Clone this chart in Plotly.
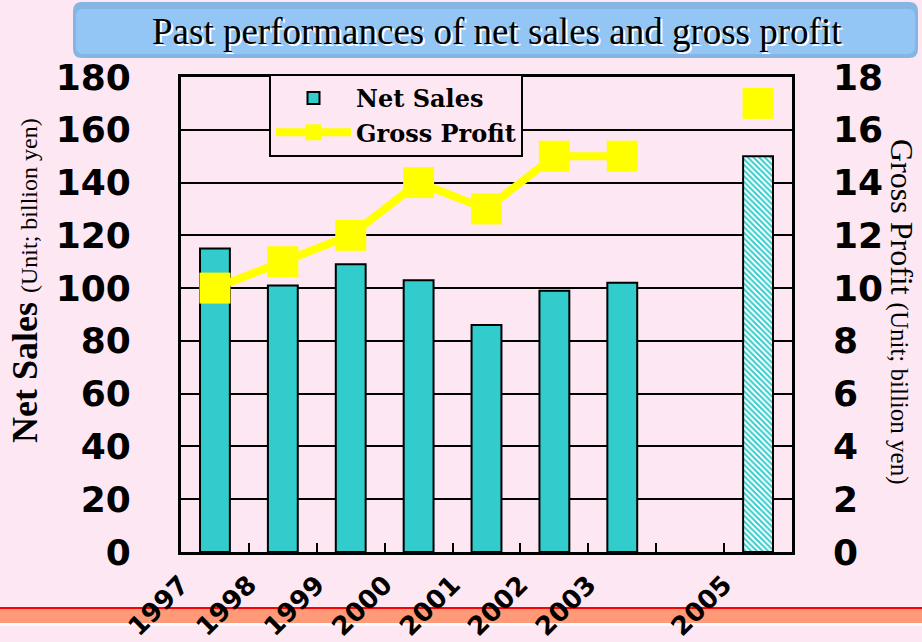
import plotly.graph_objects as go

# ---------------- data ----------------
years = [1997, 1998, 1999, 2000, 2001, 2002, 2003, 2004, 2005]
net_sales = [115, 101, 109, 103, 86, 99, 102, None, 150]          # billion yen
gross_profit = [10, 11, 12, 14, 13, 15, 15, None, 17]             # billion yen
tick_labels = ["1997", "1998", "1999", "2000", "2001", "2002", "2003", "", "2005"]
forecast_year = 2005

BG = "#FDE7F2"
TEAL = "#33CCCC"
YELLOW = "#FFFF00"

W, H = 922, 642
L, R, T, B = 181, 792, 77, 552   # plot area in px


def px_x(px):
    return (px - L) / (R - L)


def px_y(py):
    return (B - py) / (B - T)


fig = go.Figure()

pattern_shapes = ["\\" if y >= forecast_year else "" for y in years]

fig.add_trace(go.Bar(
    x=years, y=net_sales, name="Net Sales", width=0.44,
    marker=dict(color=TEAL, line=dict(color="black", width=2),
                pattern=dict(shape=pattern_shapes, fgcolor=TEAL, bgcolor="white",
                             fillmode="replace", size=4, solidity=0.5)),
    yaxis="y",
))

fig.add_trace(go.Scatter(
    x=years, y=gross_profit, name="Gross Profit", mode="lines+markers",
    line=dict(color=YELLOW, width=8),
    marker=dict(symbol="square", size=31, color=YELLOW, line=dict(width=0)),
    connectgaps=False, yaxis="y2",
))

tickfont = dict(family="DejaVu Sans", size=36, color="black", weight="bold")

fig.update_layout(
    width=W, height=H,
    margin=dict(l=L, r=W - R, t=T, b=H - B, pad=0, autoexpand=False),
    paper_bgcolor=BG, plot_bgcolor=BG,
    showlegend=True,
    legend=dict(x=px_x(269), y=px_y(74), xanchor="left", yanchor="top",
                bgcolor=BG, bordercolor="black", borderwidth=2,
                font=dict(family="DejaVu Serif", size=24, color="black", weight="bold"),
                itemwidth=75, tracegroupgap=0),
    xaxis=dict(range=[1996.5, 2005.5], tickmode="array", automargin=False,
               tickvals=[y - 0.5 for y in years], ticktext=tick_labels,
               ticks="inside", ticklen=9, tickwidth=2, tickcolor="black",
               tickangle=-45, ticklabelstandoff=4,
               tickfont=dict(family="DejaVu Sans", size=26, color="black", weight="bold"),
               showline=True, linecolor="black", linewidth=3, mirror=True,
               showgrid=False, zeroline=False),
    yaxis=dict(range=[0, 180], dtick=20, tickmode="linear", tick0=0, automargin=False,
               showgrid=True, gridcolor="black", gridwidth=2,
               showline=True, linecolor="black", linewidth=3, mirror=True,
               ticks="", ticklabelstandoff=40, tickfont=tickfont, zeroline=False),
    yaxis2=dict(range=[0, 18], dtick=2, tickmode="linear", tick0=0, automargin=False,
                overlaying="y", side="right", showgrid=False, zeroline=False,
                ticks="", ticklabelstandoff=40, tickfont=tickfont, showline=False),
)

# title box (rounded rectangle)
x0, x1, y0, y1, r = 73, 918, 2, 58, 9


def rounded_path(x0, y0, x1, y1, r):
    pts = [
        f"M {px_x(x0 + r)},{px_y(y0)}",
        f"L {px_x(x1 - r)},{px_y(y0)}",
        f"Q {px_x(x1)},{px_y(y0)} {px_x(x1)},{px_y(y0 + r)}",
        f"L {px_x(x1)},{px_y(y1 - r)}",
        f"Q {px_x(x1)},{px_y(y1)} {px_x(x1 - r)},{px_y(y1)}",
        f"L {px_x(x0 + r)},{px_y(y1)}",
        f"Q {px_x(x0)},{px_y(y1)} {px_x(x0)},{px_y(y1 - r)}",
        f"L {px_x(x0)},{px_y(y0 + r)}",
        f"Q {px_x(x0)},{px_y(y0)} {px_x(x0 + r)},{px_y(y0)}",
        "Z",
    ]
    return " ".join(pts)


shapes = [
    dict(type="path", xref="paper", yref="paper", path=rounded_path(x0, y0, x1, y1, r),
         fillcolor="#84B5E3", line=dict(width=0), layer="below"),
    dict(type="path", xref="paper", yref="paper", path=rounded_path(x0 + 3, y0 + 7, x1 - 3, y1 - 4, 7),
         fillcolor="#93C6F4", line=dict(width=0), layer="below"),
    # bottom band
    dict(type="rect", xref="paper", yref="paper", x0=px_x(0), x1=px_x(W), y0=px_y(609), y1=px_y(607),
         fillcolor="#FF0000", line=dict(width=0), layer="below"),
    dict(type="rect", xref="paper", yref="paper", x0=px_x(0), x1=px_x(W), y0=px_y(623), y1=px_y(609),
         fillcolor="#FF9977", line=dict(width=0), layer="below"),
    dict(type="rect", xref="paper", yref="paper", x0=px_x(0), x1=px_x(W), y0=px_y(625.5), y1=px_y(623),
         fillcolor="white", line=dict(width=0), layer="below"),
]
fig.update_layout(shapes=shapes)

annotations = [
    dict(text="Past performances of net sales and gross profit", xref="paper", yref="paper",
         x=px_x(497), y=px_y(31), xanchor="center", yanchor="middle", showarrow=False,
         font=dict(family="Liberation Serif", size=37, color="black", shadow="2px 2px 0px white")),
    dict(text="<b>Net Sales</b> <span style='font-size:24px'>(Unit; billion yen)</span>",
         xref="paper", yref="paper", x=px_x(25), y=px_y(281), xanchor="center", yanchor="middle",
         textangle=-90, showarrow=False,
         font=dict(family="Liberation Serif", size=36, color="black")),
    dict(text="Gross Profit <span style='font-size:25px'>(Unit; billion yen)</span>",
         xref="paper", yref="paper", x=px_x(902), y=px_y(311), xanchor="center", yanchor="middle",
         textangle=90, showarrow=False,
         font=dict(family="Liberation Serif", size=32, color="black")),
]
fig.update_layout(annotations=annotations)

fig.write_html("out.html", config={"displayModeBar": False},
               post_script="document.body.style.margin='0';document.body.style.background='%s';" % BG)
